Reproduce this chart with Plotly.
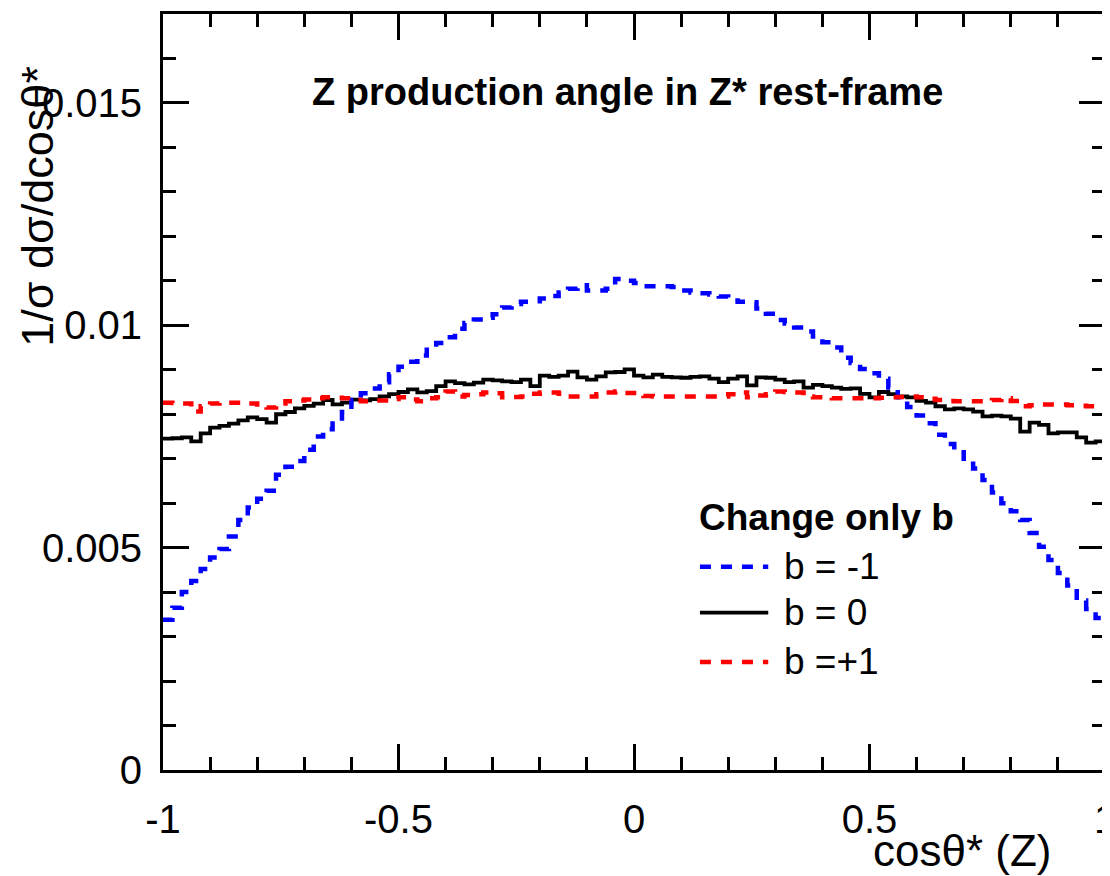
import numpy as np
import plotly.graph_objects as go

# ---- data (bin contents, 100 bins on [-1, 1]) ----
bin_lo, bin_hi, n_bins = -1.0, 1.0, 100

b_minus1 = [
    0.00338, 0.00365, 0.00400, 0.00425, 0.00452, 0.00478, 0.00497, 0.00525, 0.00562, 0.00590,
    0.00610, 0.00628, 0.00664, 0.00682, 0.00695, 0.00720, 0.00750, 0.00766, 0.00785, 0.00805,
    0.00832, 0.00847, 0.00858, 0.00872, 0.00890, 0.00907, 0.00918, 0.00932, 0.00945, 0.00960,
    0.00973, 0.00992, 0.01005, 0.01013, 0.01017, 0.01025, 0.01040, 0.01048, 0.01053, 0.01054,
    0.01060, 0.01066, 0.01074, 0.01082, 0.01090, 0.01078, 0.01078, 0.01082, 0.01104, 0.01100,
    0.01095, 0.01088, 0.01088, 0.01088, 0.01086, 0.01078, 0.01074, 0.01072, 0.01069, 0.01065,
    0.01056, 0.01053, 0.01052, 0.01038, 0.01026, 0.01012, 0.01004, 0.00995, 0.00986, 0.00975,
    0.00962, 0.00950, 0.00927, 0.00915, 0.00902, 0.00892, 0.00880, 0.00860, 0.00838, 0.00816,
    0.00797, 0.00780, 0.00754, 0.00733, 0.00720, 0.00700, 0.00678, 0.00652, 0.00624, 0.00600,
    0.00582, 0.00562, 0.00533, 0.00502, 0.00472, 0.00443, 0.00415, 0.00381, 0.00362, 0.00342,
]

b_zero = [
    0.00745, 0.00746, 0.00748, 0.00739, 0.00757, 0.00770, 0.00774, 0.00779, 0.00786, 0.00793,
    0.00789, 0.00781, 0.00800, 0.00805, 0.00813, 0.00819, 0.00824, 0.00832, 0.00822, 0.00826,
    0.00833, 0.00831, 0.00834, 0.00840, 0.00845, 0.00850, 0.00856, 0.00849, 0.00852, 0.00863,
    0.00874, 0.00870, 0.00867, 0.00871, 0.00878, 0.00876, 0.00874, 0.00872, 0.00878, 0.00863,
    0.00887, 0.00884, 0.00887, 0.00896, 0.00883, 0.00878, 0.00885, 0.00894, 0.00895, 0.00901,
    0.00887, 0.00883, 0.00889, 0.00884, 0.00883, 0.00882, 0.00884, 0.00885, 0.00880, 0.00872,
    0.00880, 0.00885, 0.00865, 0.00883, 0.00882, 0.00878, 0.00872, 0.00874, 0.00860, 0.00866,
    0.00863, 0.00860, 0.00857, 0.00858, 0.00846, 0.00838, 0.00850, 0.00845, 0.00840, 0.00838,
    0.00830, 0.00826, 0.00818, 0.00811, 0.00813, 0.00811, 0.00806, 0.00795, 0.00797, 0.00795,
    0.00790, 0.00761, 0.00781, 0.00776, 0.00757, 0.00759, 0.00759, 0.00748, 0.00736, 0.00739,
]

b_plus1 = [
    0.00826, 0.00825, 0.00824, 0.00806, 0.00818, 0.00824, 0.00826, 0.00826, 0.00826, 0.00824,
    0.00822, 0.00815, 0.00824, 0.00829, 0.00831, 0.00833, 0.00836, 0.00838, 0.00837, 0.00836,
    0.00832, 0.00829, 0.00831, 0.00831, 0.00834, 0.00838, 0.00833, 0.00829, 0.00836, 0.00838,
    0.00851, 0.00840, 0.00843, 0.00845, 0.00849, 0.00847, 0.00838, 0.00839, 0.00840, 0.00846,
    0.00849, 0.00849, 0.00846, 0.00840, 0.00840, 0.00840, 0.00845, 0.00849, 0.00851, 0.00848,
    0.00842, 0.00841, 0.00840, 0.00840, 0.00840, 0.00840, 0.00840, 0.00840, 0.00840, 0.00840,
    0.00845, 0.00849, 0.00838, 0.00842, 0.00845, 0.00851, 0.00850, 0.00849, 0.00840, 0.00838,
    0.00837, 0.00836, 0.00836, 0.00836, 0.00836, 0.00836, 0.00837, 0.00838, 0.00839, 0.00840,
    0.00838, 0.00835, 0.00832, 0.00830, 0.00829, 0.00829, 0.00829, 0.00829, 0.00832, 0.00836,
    0.00830, 0.00818, 0.00820, 0.00822, 0.00822, 0.00822, 0.00820, 0.00819, 0.00818, 0.00818,
]

series_names = ["b = -1", "b = 0", "b =+1"]
x_tick_vals = [-1, -0.5, 0, 0.5, 1]
x_tick_text = ["-1", "-0.5", "0", "0.5", "1"]
y_tick_vals = [0, 0.005, 0.01, 0.015]
y_tick_text = ["0", "0.005", "0.01", "0.015"]

title_text = "<b>Z production angle in Z* rest-frame</b>"
legend_header = "<b>Change only b</b>"
x_title = "cosθ* (Z)"
y_title = "1/σ dσ/dcosθ*"

# ---- build ----
edges = np.linspace(bin_lo, bin_hi, n_bins + 1)

def step_xy(vals):
    v = list(vals)
    return list(edges), v + [v[-1]]

FONT = "Liberation Sans, Arial, Helvetica, sans-serif"
styles = [
    dict(color="#0000ff", width=4.5, dash="11px,10px"),
    dict(color="#000000", width=3.8, dash="solid"),
    dict(color="#ff0000", width=4.5, dash="11px,10px"),
]
data_sets = [b_minus1, b_zero, b_plus1]

fig = go.Figure()
for idx in [1, 0, 2]:
    xs, ys = step_xy(data_sets[idx])
    fig.add_trace(go.Scatter(
        x=xs, y=ys, mode="lines", line_shape="hv",
        line=styles[idx], name=series_names[idx], showlegend=False,
        hoverinfo="skip",
    ))

axis_common = dict(
    showgrid=False, zeroline=False, showline=True, linecolor="black",
    linewidth=3, mirror="ticks", ticks="inside", tickcolor="black",
    tickwidth=2.5, ticklen=26, automargin=False, ticklabeloverflow="allow",
    tickfont=dict(family=FONT, size=40, color="black"),
)

fig.update_xaxes(
    range=[-1, 1], tickvals=x_tick_vals, ticktext=x_tick_text,
    minor=dict(dtick=0.1, ticks="inside", ticklen=13, tickcolor="black", tickwidth=2.5),
    ticklabelstandoff=12,
    **axis_common,
)
fig.update_yaxes(
    range=[0, 0.017], tickvals=y_tick_vals, ticktext=y_tick_text,
    minor=dict(dtick=0.001, ticks="inside", ticklen=13, tickcolor="black", tickwidth=2.5),
    ticklabelstandoff=10,
    **axis_common,
)

annotations = [
    dict(text=title_text, x=0.4926, y=0.897, xref="paper", yref="paper",
         xanchor="center", yanchor="middle", showarrow=False,
         font=dict(family=FONT, size=38, color="black")),
    dict(text=x_title, x=1.0, y=-0.106, xref="paper", yref="paper",
         xanchor="right", yanchor="middle", xshift=-52, showarrow=False,
         font=dict(family=FONT, size=44, color="black")),
    dict(text=y_title, x=-0.134, y=0.746, xref="paper", yref="paper",
         xanchor="center", yanchor="middle", textangle=-90, showarrow=False,
         font=dict(family=FONT, size=45, color="black")),
    dict(text=legend_header, x=0.134, y=0.00568, xref="x", yref="y",
         xanchor="left", yanchor="middle", showarrow=False,
         font=dict(family=FONT, size=37, color="black")),
]
shapes = []
leg_y = [0.00457, 0.00354, 0.00243]
for idx in range(3):
    shapes.append(dict(type="line", xref="x", yref="y", x0=0.140, x1=0.285,
                       y0=leg_y[idx], y1=leg_y[idx], line=styles[idx]))
    annotations.append(dict(text=series_names[idx], x=0.314, y=leg_y[idx],
                            xref="x", yref="y", xanchor="left", yanchor="middle",
                            showarrow=False,
                            font=dict(family=FONT, size=37, color="black")))

# page body has an 8px default margin, so the figure is sized to fit the window
fig.update_layout(
    width=1102, height=868,
    margin=dict(l=155, r=5, t=6, b=106),
    paper_bgcolor="white", plot_bgcolor="white",
    annotations=annotations, shapes=shapes,
    showlegend=False,
)

fig.write_html("out.html")
